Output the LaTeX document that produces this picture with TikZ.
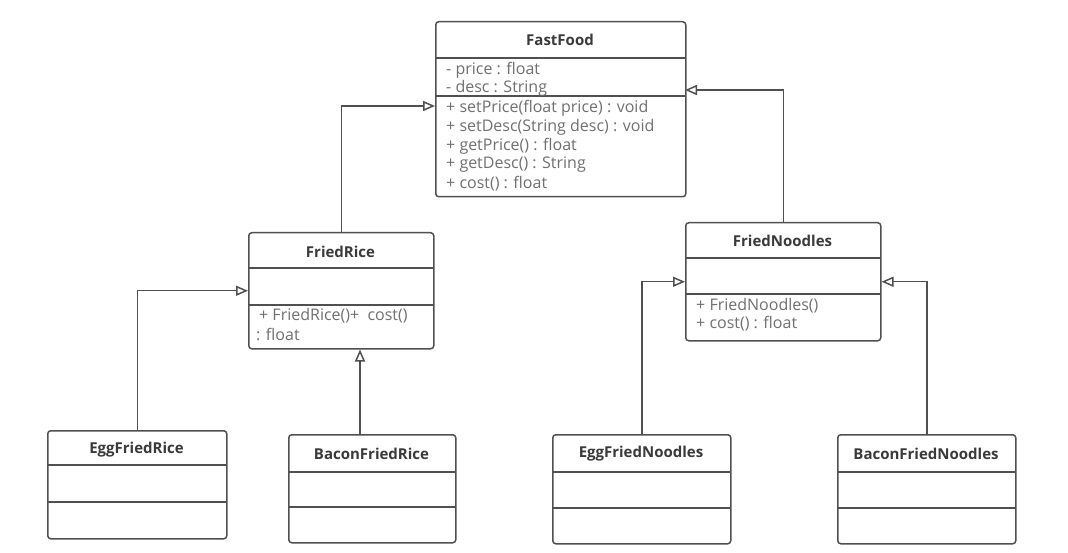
\documentclass[tikz,border=0pt]{standalone}
\usepackage{fontspec}
\setmainfont{Open Sans}
\usetikzlibrary{arrows.meta}
\definecolor{ln}{HTML}{505050}
\definecolor{tx}{HTML}{707070}
\definecolor{tt}{HTML}{3A3A3A}
\tikzset{
  cls/.style={draw=ln, line width=1.5pt, rounded corners=3pt, fill=white, anchor=north west, inner sep=0pt},
  sep/.style={draw=ln, line width=1.5pt},
  ttl/.style={text=tt, font=\fontsize{15}{16}\selectfont\bfseries, inner sep=0pt},
  mem/.style={text=tx, font=\fontsize{16}{18}\selectfont, inner sep=0pt, anchor=west},
  inh/.style={draw=ln, line width=1.5pt, -{Triangle[open, length=12pt, width=10pt, fill=white]}},
}
\begin{document}
\begin{tikzpicture}[x=1pt,y=-1pt]
\useasboundingbox (0,0) rectangle (1068,553);
% FastFood
\node[cls, minimum width=250, minimum height=175] (ff) at (435,21) {};
\draw[sep] (435,58) -- (685,58);
\draw[sep] (435,96) -- (685,96);
\node[ttl] (fft) at (560,40) {FastFood};
\node[mem] (ffa1) at (446,70) {- price : float};
\node[mem] (ffa2) at (446,88) {- desc : String};
\node[mem] (ffm1) at (446,108) {+ setPrice(float price) : void};
\node[mem] (ffm2) at (446,127) {+ setDesc(String desc) : void};
\node[mem] (ffm3) at (446,146) {+ getPrice() : float};
\node[mem] (ffm4) at (446,165) {+ getDesc() : String};
\node[mem] (ffm5) at (446,184) {+ cost() : float};
% FriedRice
\node[cls, minimum width=185, minimum height=116] (fr) at (248,232) {};
\draw[sep] (248,268) -- (433,268);
\draw[sep] (248,305) -- (433,305);
\node[ttl] (frt) at (340.5,252) {FriedRice};
\node[mem] (frm1) at (259,316) {+ FriedRice()+\ \ cost()};
\node[mem] (frm2) at (256,334) {: float};
% FriedNoodles
\node[cls, minimum width=195, minimum height=118] (fn) at (685,222) {};
\draw[sep] (685,258) -- (880,258);
\draw[sep] (685,294) -- (880,294);
\node[ttl] (fnt) at (782.5,241) {FriedNoodles};
\node[mem] (fnm1) at (696,306) {+ FriedNoodles()};
\node[mem] (fnm2) at (696,324) {+ cost() : float};
% EggFriedRice
\node[cls, minimum width=179, minimum height=108] (efr) at (47,430) {};
\draw[sep] (47,465) -- (226,465);
\draw[sep] (47,502) -- (226,502);
\node[ttl] (efrt) at (136.5,450) {EggFriedRice};
% BaconFriedRice
\node[cls, minimum width=167, minimum height=108] (bfr) at (288,434) {};
\draw[sep] (288,472) -- (455,472);
\draw[sep] (288,507) -- (455,507);
\node[ttl] (bfrt) at (371.5,454) {BaconFriedRice};
% EggFriedNoodles
\node[cls, minimum width=178, minimum height=109] (efn) at (552,434) {};
\draw[sep] (552,472) -- (730,472);
\draw[sep] (552,508) -- (730,508);
\node[ttl] (efnt) at (641,454) {EggFriedNoodles};
% BaconFriedNoodles
\node[cls, minimum width=178, minimum height=109] (bfn) at (837,434) {};
\draw[sep] (837,472) -- (1015,472);
\draw[sep] (837,508) -- (1015,508);
\node[ttl] (bfnt) at (926,454) {BaconFriedNoodles};
% connectors
\coordinate (ffL) at (435,106);
\coordinate (ffR) at (685,90);
\coordinate (bfrtop) at (360,434);
\draw[inh] (fr.north) |- (ffL);
\draw[inh] (fn.north) |- (ffR);
\draw[inh] (efr.north) |- (fr.west);
\draw[inh] (bfrtop) -- (bfrtop |- fr.south);
\draw[inh] (efn.north) |- (fn.west);
\draw[inh] (bfn.north) |- (fn.east);
\end{tikzpicture}
\end{document}
